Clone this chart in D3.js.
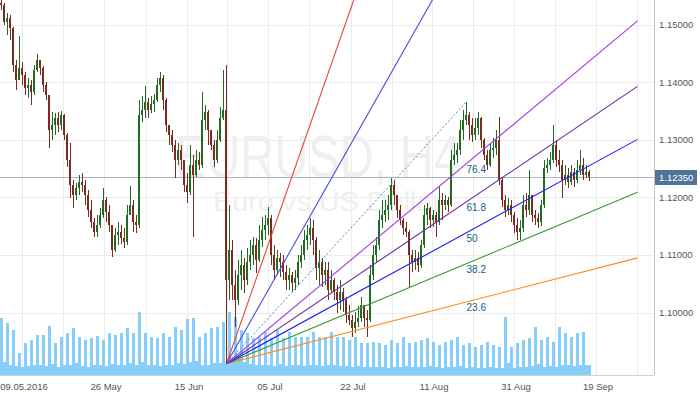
<!DOCTYPE html>
<meta charset="utf-8">
<style>
  body { margin: 0; background: #fff; }
  svg { display: block; font-family: "Liberation Sans", Arial, sans-serif; }
</style>
<body>
<script src="https://d3js.org/d3.v7.min.js"></script>
<script>
	// chart texts
	var symbolName = "EURUSD, H4";
	var symbolDesc = "Euro vs US Dollar";

	// H4 candles (3 H4 bars per candle)
	var firstOpen = 1.1537;
	var closes = [
		1.1534,1.1504,1.1511,1.1494,1.1430,1.1404,1.1425,1.1412,1.1390,1.1395,
		1.1383,1.1421,1.1438,1.1425,1.1395,1.1378,1.1317,1.1326,1.1338,1.1326,
		1.1343,1.1308,1.1265,1.1221,1.1204,1.1216,1.1227,1.1221,1.1204,1.1178,
		1.1157,1.1140,1.1152,1.1169,1.1195,1.1174,1.1152,1.1109,1.1135,1.1140,
		1.1129,1.1122,1.1169,1.1187,1.1157,1.1152,1.1343,1.1352,1.1365,1.1352,
		1.1362,1.1369,1.1395,1.1407,1.1369,1.1326,1.1308,1.1291,1.1265,1.1282,
		1.1265,1.1221,1.1209,1.1256,1.1239,1.1265,1.1256,1.1334,1.1348,1.1317,
		1.1291,1.1265,1.1300,1.1338,1.1352,1.1056,1.1109,1.1048,1.1022,1.1065,
		1.1083,1.1056,1.1088,1.1100,1.1117,1.1091,1.1126,1.1143,1.1152,1.1164,
		1.1100,1.1074,1.1095,1.1088,1.1070,1.1056,1.1065,1.1051,1.1060,1.1088,
		1.1100,1.1126,1.1135,1.1147,1.1126,1.1077,1.1088,1.1065,1.1074,1.1039,
		1.1056,1.1036,1.1022,1.1036,1.1022,1.0996,1.0987,1.0973,1.0984,1.0990,
		1.1013,1.0990,1.0987,1.1065,1.1100,1.1117,1.1161,1.1169,1.1178,1.1187,
		1.1221,1.1204,1.1178,1.1161,1.1147,1.1140,1.1100,1.1088,1.1095,1.1083,
		1.1117,1.1169,1.1181,1.1161,1.1169,1.1157,1.1195,1.1187,1.1195,1.1187,
		1.1265,1.1273,1.1282,1.1317,1.1334,1.1343,1.1326,1.1308,1.1320,1.1338,
		1.1300,1.1273,1.1256,1.1282,1.1286,1.1300,1.1230,1.1195,1.1178,1.1187,
		1.1169,1.1152,1.1140,1.1147,1.1187,1.1178,1.1204,1.1169,1.1164,1.1157,
		1.1187,1.1251,1.1256,1.1265,1.1291,1.1265,1.1256,1.1230,1.1239,1.1227,
		1.1244,1.1230,1.1247,1.1256,1.1239,1.1244,1.1235
	];
	var highs = [
		1.1546,1.1537,1.1520,1.1517,1.1496,1.1438,1.1480,1.1435,1.1418,1.1407,
		1.1404,1.1430,1.1449,1.1438,1.1428,1.1400,1.1378,1.1348,1.1346,1.1348,
		1.1350,1.1345,1.1312,1.1294,1.1230,1.1225,1.1239,1.1242,1.1230,1.1213,
		1.1195,1.1164,1.1169,1.1181,1.1216,1.1201,1.1187,1.1152,1.1147,1.1157,
		1.1152,1.1147,1.1187,1.1220,1.1195,1.1169,1.1369,1.1376,1.1393,1.1372,
		1.1376,1.1379,1.1407,1.1418,1.1412,1.1372,1.1326,1.1317,1.1300,1.1294,
		1.1291,1.1265,1.1242,1.1291,1.1273,1.1282,1.1279,1.1383,1.1360,1.1352,
		1.1317,1.1300,1.1317,1.1357,1.1421,1.1430,1.1187,1.1126,1.1074,1.1091,
		1.1109,1.1095,1.1112,1.1126,1.1131,1.1129,1.1152,1.1166,1.1169,1.1183,
		1.1169,1.1117,1.1109,1.1103,1.1100,1.1083,1.1077,1.1070,1.1074,1.1100,
		1.1117,1.1143,1.1152,1.1164,1.1161,1.1131,1.1109,1.1095,1.1088,1.1088,
		1.1074,1.1060,1.1048,1.1056,1.1042,1.1027,1.1013,1.0996,1.1001,1.1011,
		1.1027,1.1013,1.1004,1.1083,1.1117,1.1131,1.1178,1.1195,1.1195,1.1204,
		1.1234,1.1230,1.1204,1.1187,1.1164,1.1157,1.1143,1.1109,1.1109,1.1105,
		1.1126,1.1187,1.1190,1.1183,1.1178,1.1174,1.1218,1.1207,1.1204,1.1201,
		1.1282,1.1294,1.1294,1.1334,1.1352,1.1366,1.1348,1.1338,1.1338,1.1348,
		1.1340,1.1303,1.1282,1.1294,1.1303,1.1317,1.1339,1.1234,1.1204,1.1199,
		1.1195,1.1174,1.1164,1.1161,1.1204,1.1207,1.1247,1.1204,1.1178,1.1173,
		1.1195,1.1265,1.1268,1.1279,1.1326,1.1300,1.1282,1.1265,1.1256,1.1251,
		1.1256,1.1251,1.1265,1.1282,1.1268,1.1256,1.1247
	];
	var lows = [
		1.1525,1.1499,1.1482,1.1473,1.1418,1.1386,1.1404,1.1395,1.1378,1.1372,
		1.1360,1.1378,1.1418,1.1412,1.1383,1.1369,1.1286,1.1300,1.1308,1.1313,
		1.1317,1.1300,1.1253,1.1199,1.1181,1.1195,1.1204,1.1209,1.1187,1.1166,
		1.1147,1.1131,1.1131,1.1147,1.1164,1.1157,1.1140,1.1096,1.1105,1.1117,
		1.1119,1.1112,1.1117,1.1169,1.1140,1.1138,1.1147,1.1331,1.1338,1.1338,
		1.1346,1.1348,1.1365,1.1383,1.1352,1.1313,1.1291,1.1279,1.1234,1.1256,
		1.1247,1.1209,1.1190,1.1204,1.1131,1.1236,1.1247,1.1251,1.1317,1.1291,
		1.1282,1.1253,1.1260,1.1296,1.1334,1.0911,1.1022,1.1022,1.0975,1.1013,
		1.1039,1.1034,1.1048,1.1074,1.1083,1.1069,1.1088,1.1114,1.1126,1.1135,
		1.1083,1.1056,1.1065,1.1062,1.1056,1.1039,1.1039,1.1036,1.1039,1.1048,
		1.1077,1.1091,1.1109,1.1117,1.1100,1.1056,1.1048,1.1044,1.1048,1.1022,
		1.1034,1.1022,1.0999,1.1004,1.1001,1.0982,1.0978,1.0957,1.0964,1.0975,
		1.0984,1.0975,1.0957,1.0984,1.1056,1.1088,1.1109,1.1147,1.1157,1.1161,
		1.1178,1.1187,1.1164,1.1152,1.1135,1.1131,1.1044,1.1070,1.1074,1.1070,
		1.1077,1.1112,1.1152,1.1147,1.1148,1.1131,1.1152,1.1161,1.1178,1.1174,
		1.1183,1.1256,1.1260,1.1273,1.1300,1.1326,1.1300,1.1296,1.1300,1.1308,
		1.1286,1.1265,1.1247,1.1253,1.1268,1.1273,1.1221,1.1183,1.1166,1.1169,
		1.1157,1.1138,1.1126,1.1126,1.1140,1.1166,1.1169,1.1157,1.1152,1.1147,
		1.1150,1.1181,1.1242,1.1247,1.1260,1.1253,1.1244,1.1199,1.1221,1.1216,
		1.1221,1.1218,1.1225,1.1239,1.1230,1.1234,1.1228
	];
	// tick volume per candle
	var volumes = [
		5700,1300,5200,1000,4500,900,2200,800,3200,900,3500,1000,4000,1000,4000,900,
		4900,1100,3200,800,3800,1000,4200,1000,4700,1200,3800,900,3500,800,3700,1000,
		3900,1000,3500,900,4200,1100,4000,1000,4200,1000,4700,1200,4200,1000,6300,1300,
		4200,1000,3800,1000,3700,900,4200,1000,3800,1000,4800,1200,4500,1100,5600,1300,
		5700,1400,3800,1000,4200,1000,4700,1200,4800,1200,5300,1400,6300,1700,5800,1900,
		4500,1300,4200,1100,3700,1000,3800,1000,4300,1000,3700,900,4500,1100,3700,900,
		4300,1000,3800,1000,3800,900,3800,1000,4300,1000,3800,900,3800,1000,4300,1000,
		3800,900,3800,900,3500,800,3800,900,3200,800,3200,800,3300,800,3200,800,
		3000,700,3500,800,3200,800,3800,900,3200,800,3300,800,3500,800,3700,900,
		3300,800,3000,700,3300,800,3500,800,3800,900,3000,700,3200,800,2800,700,
		3000,700,3300,800,3000,700,2800,700,5800,1200,2800,700,3200,800,3500,800,
		3700,900,4800,1100,3500,800,3800,900,3300,800,4800,1000,4200,1000,3800,900,
		4200,1000,4300,1000,1000
	];

	// axes
	var dateLabels = ["09.05.2016", "26 May", "15 Jun", "05 Jul", "22 Jul", "11 Aug", "31 Aug", "19 Sep"];
	var dateIdx = [6.83, 34.17, 61.83, 88.83, 116.5, 143.5, 170.83, 198.17];
	var priceTicks = [1.10, 1.11, 1.12, 1.13, 1.14, 1.15];
	var lastPrice = 1.1235;

	// fibonacci fan
	var fanLow = {i: 75, p: 1.0911}, fanHigh = {i: 155, p: 1.1366}, fanEnd = 212;
	var fanLevels = [0.236, 0.382, 0.5, 0.618, 0.764, 1.618, 2.618];
	var fanLabels = ["23.6", "38.2", "50", "61.8", "76.4", "", ""];
	var fanColors = ["#ff8a1c", "#3a9b34", "#1f1fff", "#6a2e94", "#a53be0", "#4a4ae6", "#e8433d"];

	var width = 654, height = 375;

	var x = d3.scaleLinear().domain([-0.5, 217.5]).range([0, width]);
	var y = d3.scaleLinear().domain([1.10, 1.15]).range([312.5, 24.5]);
	var yv = d3.scaleLinear().domain([0, 7000]).range([height, height - 70]);

	var svg = d3.select("body").append("svg")
		.attr("width", 700)
		.attr("height", 394);

	svg.append("defs").append("clipPath").attr("id", "plot")
		.append("rect").attr("width", width).attr("height", height);

	// grid
	var gridIdx = [];
	dateIdx.forEach(function(d, k) {
		gridIdx.push(d);
		var next = k < dateIdx.length - 1 ? dateIdx[k + 1] : d + (dateIdx[1] - dateIdx[0]);
		gridIdx.push((d + next) / 2);
	});
	var grid = svg.append("g").attr("stroke", "#ebebeb").attr("shape-rendering", "crispEdges");
	grid.selectAll(".vg").data(gridIdx).enter().append("line")
		.attr("x1", function(d) { return Math.round(x(d)) + 0.5; })
		.attr("x2", function(d) { return Math.round(x(d)) + 0.5; })
		.attr("y1", 0).attr("y2", height);
	grid.selectAll(".hg").data(priceTicks).enter().append("line")
		.attr("x1", 0).attr("x2", width)
		.attr("y1", function(d) { return Math.round(y(d)) + 0.5; })
		.attr("y2", function(d) { return Math.round(y(d)) + 0.5; });

	// watermark
	svg.append("text").attr("x", 175).attr("y", 177)
		.attr("textLength", 285).attr("lengthAdjust", "spacingAndGlyphs")
		.style("font-size", "60px").style("fill", "#efefef")
		.text(symbolName);
	svg.append("text").attr("x", 213).attr("y", 211)
		.attr("textLength", 229).attr("lengthAdjust", "spacingAndGlyphs")
		.style("font-size", "28px").style("fill", "#efefef")
		.text(symbolDesc);

	var plot = svg.append("g").attr("clip-path", "url(#plot)");

	// volume
	plot.append("g").attr("shape-rendering", "crispEdges")
		.selectAll("rect").data(volumes).enter().append("rect")
		.attr("x", function(d, i) { return x(i) - 1.5; })
		.attr("width", 3)
		.attr("y", function(d) { return yv(d); })
		.attr("height", function(d) { return height - yv(d); })
		.attr("fill", "#87cefa");

	// last price line
	plot.append("line")
		.attr("x1", 0).attr("x2", width)
		.attr("y1", Math.round(y(lastPrice)) + 0.5).attr("y2", Math.round(y(lastPrice)) + 0.5)
		.attr("stroke", "#a8b5c2");

	// candles
	var candles = closes.map(function(c, i) {
		var o = i === 0 ? firstOpen : closes[i - 1];
		return {i: i, o: o, c: c, h: Math.max(highs[i], o, c), l: Math.min(lows[i], o, c)};
	});
	var cg = plot.append("g").attr("shape-rendering", "crispEdges")
		.selectAll("g").data(candles).enter().append("g")
		.attr("fill", function(d) { return d.c >= d.o ? "#1f6b21" : "#7b2a1f"; });
	cg.append("rect")
		.attr("x", function(d) { return x(d.i) - 0.5; })
		.attr("width", 1)
		.attr("y", function(d) { return y(d.h); })
		.attr("height", function(d) { return Math.max(1, y(d.l) - y(d.h)); });
	cg.append("rect")
		.attr("x", function(d) { return x(d.i) - 1.5; })
		.attr("width", 2)
		.attr("y", function(d) { return y(Math.max(d.o, d.c)); })
		.attr("height", function(d) { return Math.max(1, Math.abs(y(d.o) - y(d.c))); });

	// fan
	var dp = fanHigh.p - fanLow.p, di = fanHigh.i - fanLow.i;
	function fanPrice(level, i) { return fanLow.p + level * dp * (i - fanLow.i) / di; }

	plot.append("line")
		.attr("x1", x(fanLow.i)).attr("y1", y(fanLow.p))
		.attr("x2", x(fanHigh.i)).attr("y2", y(fanHigh.p))
		.attr("stroke", "#4a8db5").attr("stroke-dasharray", "2,2");

	plot.selectAll(".fan").data(fanLevels).enter().append("line")
		.attr("class", "fan")
		.attr("x1", x(fanLow.i)).attr("y1", y(fanLow.p))
		.attr("x2", x(fanEnd))
		.attr("y2", function(d) { return y(fanPrice(d, fanEnd)); })
		.attr("stroke", function(d, k) { return fanColors[k]; })
		.attr("stroke-width", 1.1);

	plot.selectAll(".fanlab").data(fanLevels).enter().append("text")
		.attr("x", x(fanHigh.i))
		.attr("y", function(d) { return y(fanPrice(d, fanHigh.i)) + 9; })
		.style("font-size", "10px").style("fill", "#135b8c")
		.text(function(d, k) { return fanLabels[k]; });

	// frame
	svg.append("line").attr("x1", width + 0.5).attr("x2", width + 0.5)
		.attr("y1", 0).attr("y2", height).attr("stroke", "#c4c4c4");
	svg.append("line").attr("x1", 0).attr("x2", width)
		.attr("y1", height + 0.5).attr("y2", height + 0.5).attr("stroke", "#d0d0d0");

	// price axis
	svg.selectAll(".pl").data(priceTicks).enter().append("text")
		.attr("x", 659).attr("y", function(d) { return y(d) + 3.5; })
		.style("font-size", "9.5px").style("fill", "#555")
		.text(function(d) { return d3.format(".5f")(d); });

	svg.append("rect").attr("x", 655).attr("y", Math.round(y(lastPrice)) - 7)
		.attr("width", 42).attr("height", 15).attr("fill", "#50739a");
	svg.append("text").attr("x", 659).attr("y", y(lastPrice) + 3.5)
		.style("font-size", "9.5px").style("fill", "#fff")
		.text(d3.format(".5f")(lastPrice));

	// date axis
	svg.selectAll(".dl").data(dateLabels).enter().append("text")
		.attr("x", function(d, k) { return x(dateIdx[k]) + 2; })
		.attr("y", 390)
		.attr("text-anchor", "middle")
		.style("font-size", "9.5px").style("fill", "#555")
		.text(function(d) { return d; });
</script>
</body>
